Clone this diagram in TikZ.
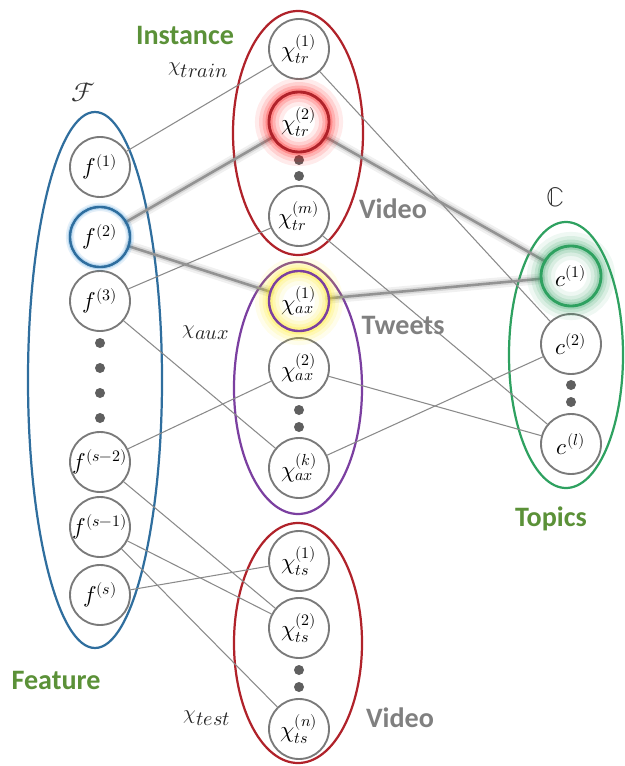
\documentclass[tikz,border=0pt]{standalone}
\usepackage{fontspec}
\usepackage{unicode-math}
\setmathfont{Latin Modern Math}
\newfontfamily\labfont{Carlito}
\definecolor{edgegray}{HTML}{8A8A8A}
\definecolor{nodegray}{HTML}{7A7A7A}
\definecolor{fblue}{HTML}{2F6E9E}
\definecolor{vred}{HTML}{B0222A}
\definecolor{tpurple}{HTML}{7B3FA0}
\definecolor{cgreen}{HTML}{2EA160}
\definecolor{labgreen}{HTML}{5B9138}
\definecolor{labgray}{HTML}{808080}
\definecolor{dotgray}{HTML}{5F5F5F}
\tikzset{
  vnode/.style={circle, draw=nodegray, line width=1.6pt, fill=white, minimum size=1.8cm, inner sep=0pt, font=\fontsize{19.5}{22}\selectfont},
  edge/.style={draw=edgegray, line width=0.9pt},
  hishadow/.style={draw=gray, line width=9pt, opacity=0.12, line cap=round},
  hishadowb/.style={draw=gray, line width=5pt, opacity=0.22, line cap=round},
  hiedge/.style={draw=gray!85, line width=2.2pt},
  grp/.style={line width=1.9pt},
  dotnode/.style={circle, fill=dotgray, minimum size=0.3cm, inner sep=0pt},
  catlabel/.style={font=\labfont\bfseries\fontsize{24}{26}\selectfont, text=labgreen},
  srclabel/.style={font=\labfont\bfseries\fontsize{24}{26}\selectfont, text=labgray},
  mlabel/.style={font=\fontsize{17.28}{20}\selectfont, text=black!85},
  biglabel/.style={font=\fontsize{23}{25}\selectfont, text=black!80},
}
\begin{document}
\begin{tikzpicture}[x=0.03cm, y=-0.03cm]
\useasboundingbox (0,0) rectangle (624,766);
% group ellipses
\draw[grp, draw=fblue] (95,380) ellipse [x radius=67, y radius=268];
\draw[grp, draw=vred] (298,133) ellipse [x radius=65, y radius=122];
\draw[grp, draw=tpurple] (298,388) ellipse [x radius=64, y radius=126];
\draw[grp, draw=vred] (298,643) ellipse [x radius=64, y radius=120];
\draw[grp, draw=cgreen] (566,355) ellipse [x radius=57, y radius=133];
% nodes
\node[vnode] (f1) at (100,167) {$f^{(1)}$};
\node[vnode, draw=fblue] (f2) at (100,237) {$f^{(2)}$};
\node[vnode] (f3) at (100,301) {$f^{(3)}$};
\node[vnode] (fs2) at (100,462) {$f^{(s-2)}$};
\node[vnode] (fs1) at (100,527) {$f^{(s-1)}$};
\node[vnode] (fs) at (100,595) {$f^{(s)}$};
\node[dotnode] (fd1) at (100,343) {};
\node[dotnode] (fd2) at (100,368) {};
\node[dotnode] (fd3) at (100,393) {};
\node[dotnode] (fd4) at (100,418) {};

\node[vnode] (xtr1) at (299,49) {$\chi^{(1)}_{tr}$};
\node[vnode, draw=vred] (xtr2) at (299,122) {$\chi^{(2)}_{tr}$};
\node[vnode] (xtrm) at (299,216) {$\chi^{(m)}_{tr}$};
\node[dotnode] (trd1) at (299,160) {};
\node[dotnode] (trd2) at (299,176) {};

\node[vnode, draw=tpurple] (xax1) at (299,301) {$\chi^{(1)}_{ax}$};
\node[vnode] (xax2) at (299,368) {$\chi^{(2)}_{ax}$};
\node[vnode] (xaxk) at (299,468) {$\chi^{(k)}_{ax}$};
\node[dotnode] (axd1) at (299,410) {};
\node[dotnode] (axd2) at (299,427) {};

\node[vnode] (xts1) at (299,561) {$\chi^{(1)}_{ts}$};
\node[vnode] (xts2) at (299,628) {$\chi^{(2)}_{ts}$};
\node[vnode] (xtsn) at (299,729) {$\chi^{(n)}_{ts}$};
\node[dotnode] (tsd1) at (299,670) {};
\node[dotnode] (tsd2) at (299,687) {};

\node[vnode, draw=cgreen] (c1) at (571,276) {$c^{(1)}$};
\node[vnode] (c2) at (571,344) {$c^{(2)}$};
\node[vnode] (cl) at (571,444) {$c^{(l)}$};
\node[dotnode] (cd1) at (571,385) {};
\node[dotnode] (cd2) at (571,402) {};

% thin edges
\draw[edge] (f1) -- (xtr1);
\draw[edge] (f3) -- (xtrm);
\draw[edge] (f3) -- (xaxk);
\draw[edge] (fs2) -- (xax2);
\draw[edge] (fs2) -- (xts2);
\draw[edge] (fs1) -- (xts2);
\draw[edge] (fs1) -- (xtsn);
\draw[edge] (fs) -- (xts1);
\draw[edge] (xtr1) -- (c2);
\draw[edge] (xtrm) -- (cl);
\draw[edge] (xax2) -- (cl);
\draw[edge] (xaxk) -- (c2);
% highlighted edges
\foreach \a/\b in {f2/xtr2, f2/xax1, xtr2/c1, xax1/c1} {
  \draw[hishadow] (\a) -- (\b);
  \draw[hishadowb] (\a) -- (\b);
  \draw[hiedge] (\a) -- (\b);
}
% glows
\foreach \w/\o in {24pt/0.08, 17pt/0.11, 11pt/0.15, 6pt/0.22} {
  \draw[red, line width=\w, opacity=\o] (xtr2.center) circle [radius=0.9cm];
  \draw[yellow!90!orange, line width=\w, opacity=\o] (xax1.center) circle [radius=0.9cm];
  \draw[cgreen, line width=\w, opacity=\o] (c1.center) circle [radius=0.9cm];
}
\foreach \w/\o in {7pt/0.12, 4pt/0.2} {
  \draw[cyan!60!blue, line width=\w, opacity=\o] (f2.center) circle [radius=0.9cm];
}
\draw[vred, line width=2.4pt] (xtr2.center) circle [radius=0.9cm];
\draw[tpurple, line width=2pt] (xax1.center) circle [radius=0.9cm];
\draw[cgreen, line width=2.4pt] (c1.center) circle [radius=0.9cm];
\draw[fblue, line width=2pt] (f2.center) circle [radius=0.9cm];

% labels
\node[catlabel] (linst) at (185,35) {Instance};
\node[catlabel] (lfeat) at (56,680) {Feature};
\node[catlabel] (ltop) at (551,519) {Topics};
\node[srclabel] (lvid1) at (393,209) {Video};
\node[srclabel] (ltw) at (403,325) {Tweets};
\node[srclabel] (lvid2) at (400,718) {Video};
\node[biglabel] (lF) at (84,92) {$\mathcal{F}$};
\node[biglabel] (lC) at (555,197) {$\mathbb{C}$};
\node[mlabel] (ltrain) at (198,70) {$\chi_{\textstyle train}$};
\node[mlabel] (laux) at (206,333) {$\chi_{\textstyle aux}$};
\node[mlabel] (ltest) at (207,718) {$\chi_{\textstyle test}$};
\end{tikzpicture}
\end{document}
